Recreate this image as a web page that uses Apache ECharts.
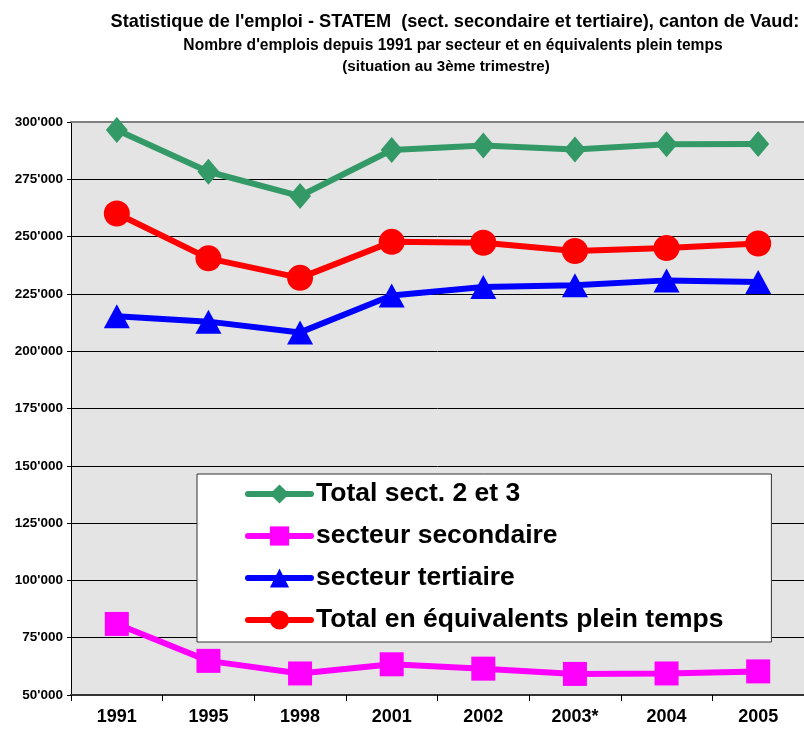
<!DOCTYPE html>
<html><head><meta charset="utf-8">
<script src="https://cdn.jsdelivr.net/npm/echarts@6/dist/echarts.min.js"></script>
<style>html,body{margin:0;padding:0;background:#fff}#c{width:804px;height:736px}</style>
</head><body><div id="c"></div>
<script>
const categories = ['1991','1995','1998','2001','2002','2003*','2004','2005'];
const totalSect23 = [296500, 278300, 267700, 287800, 289700, 288000, 290300, 290400];
const secteurSecondaire = [81000, 64900, 59400, 63400, 61500, 59200, 59400, 60300];
const secteurTertiaire = [215300, 212900, 208200, 224300, 228000, 228800, 230900, 230200];
const totalEPT = [260100, 240500, 232000, 247700, 247300, 243700, 245000, 247000];
const seriesNames = ['Total sect. 2 et 3', 'secteur secondaire', 'secteur tertiaire', 'Total en équivalents plein temps'];
const titleLines = [
  "Statistique de l'emploi - STATEM  (sect. secondaire et tertiaire), canton de Vaud:",
  "Nombre d'emplois depuis 1991 par secteur et en équivalents plein temps",
  "(situation au 3ème trimestre)"
];
const yTicks = {min: 50000, max: 300000, interval: 25000};

const fmt = v => { const s = String(v); return s.length > 3 ? s.slice(0, -3) + "'" + s.slice(-3) : s; };
const FF = 'Liberation Sans, Arial, sans-serif';

const chart = echarts.init(document.getElementById('c'));
function mk(name, data, color, symbol, size) {
  return {
    name, type: 'line', data, symbol, symbolSize: size,
    lineStyle: {color, width: 6, cap: 'round'}, itemStyle: {color},
    showSymbol: true, z: 3
  };
}
chart.setOption({
  animation: false,
  title: [
    {text: titleLines[0], left: 450, top: 8, textAlign: 'center', textStyle: {fontFamily: FF, fontSize: 18.2, fontWeight: 'bold', color: '#000'}},
    {text: titleLines[1], left: 448, top: 33, textAlign: 'center', textStyle: {fontFamily: FF, fontSize: 15.6, fontWeight: 'bold', color: '#000'}},
    {text: titleLines[2], left: 441, top: 54, textAlign: 'center', textStyle: {fontFamily: FF, fontSize: 15.2, fontWeight: 'bold', color: '#000'}}
  ],
  grid: {left: 71, right: -3, top: 122, bottom: 41, show: true, backgroundColor: '#e4e4e4', borderWidth: 0},
  legend: {
    orient: 'vertical', left: 197, top: 474,
    backgroundColor: '#fff', borderColor: '#333', borderWidth: 1,
    padding: [6, 48, 8, 48], itemGap: 14, itemWidth: 63, itemHeight: 24,
    lineStyle: {width: 6, cap: 'round'},
    textStyle: {fontFamily: FF, fontSize: 26.5, fontWeight: 'bold', color: '#000', lineHeight: 28},
    data: seriesNames
  },
  xAxis: [{
    type: 'category', data: categories, boundaryGap: true,
    axisLine: {lineStyle: {color: '#333', width: 2}},
    axisTick: {show: true, length: 6, lineStyle: {color: '#000'}},
    axisLabel: {fontFamily: FF, fontSize: 18, fontWeight: 'bold', color: '#000', margin: 13},
    splitLine: {show: false}
  }, {
    type: 'category', data: categories, position: 'top',
    axisLine: {lineStyle: {color: '#808080', width: 2}},
    axisTick: {show: false}, axisLabel: {show: false}
  }],
  yAxis: {
    type: 'value', min: yTicks.min, max: yTicks.max, interval: yTicks.interval,
    axisLine: {show: true, lineStyle: {color: '#000', width: 1}},
    axisTick: {show: true, length: 4, lineStyle: {color: '#000'}},
    axisLabel: {fontFamily: FF, fontSize: 13.5, fontWeight: 'bold', color: '#000', margin: 8, formatter: fmt},
    splitLine: {show: true, lineStyle: {color: '#000', width: 1}}
  },
  series: [
    mk(seriesNames[0], totalSect23, '#339966', 'diamond', [22, 26]),
    mk(seriesNames[1], secteurSecondaire, '#ff00ff', 'rect', 24),
    mk(seriesNames[2], secteurTertiaire, '#0000ff', 'triangle', [26, 24]),
    mk(seriesNames[3], totalEPT, '#ff0000', 'circle', 26)
  ]
});
</script></body></html>
